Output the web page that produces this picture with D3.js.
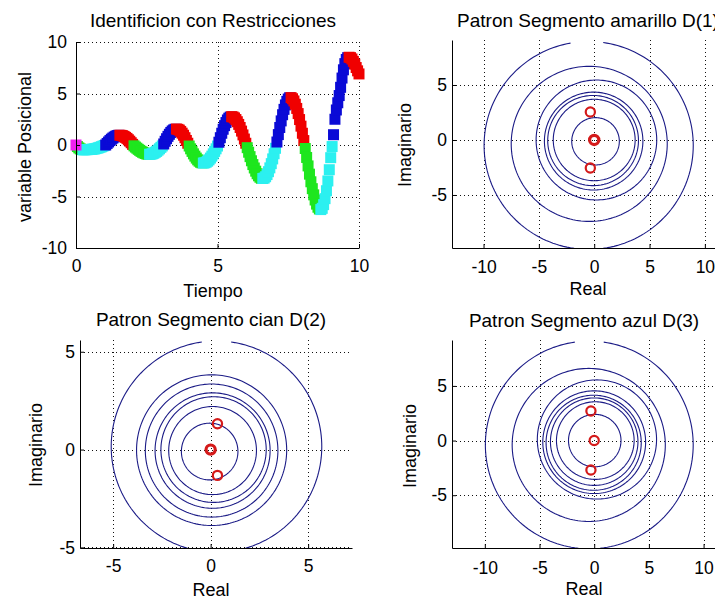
<!DOCTYPE html>
<html>
<head>
<meta charset="utf-8">
<script src="https://cdn.jsdelivr.net/npm/d3@7"></script>
<style>
	body { margin: 0; background: #fff; }
	svg { display: block; font-family: "Liberation Sans", Arial, Helvetica, sans-serif; }
</style>
</head>
<body>
<div id="chart"></div>
<script>
// respuesta identificada: tiempo (s) y variable posicional
var tiempo = [
	0.00, 0.05, 0.10, 0.15, 0.20, 0.25, 0.30, 0.35, 0.40, 0.45,
	0.50, 0.55, 0.60, 0.65, 0.70, 0.75, 0.80, 0.85, 0.90, 0.95,
	1.00, 1.05, 1.10, 1.15, 1.20, 1.25, 1.30, 1.35, 1.40, 1.45,
	1.50, 1.55, 1.60, 1.65, 1.70, 1.75, 1.80, 1.85, 1.90, 1.95,
	2.00, 2.05, 2.10, 2.15, 2.20, 2.25, 2.30, 2.35, 2.40, 2.45,
	2.50, 2.55, 2.60, 2.65, 2.70, 2.75, 2.80, 2.85, 2.90, 2.95,
	3.00, 3.05, 3.10, 3.15, 3.20, 3.25, 3.30, 3.35, 3.40, 3.45,
	3.50, 3.55, 3.60, 3.65, 3.70, 3.75, 3.80, 3.85, 3.90, 3.95,
	4.00, 4.05, 4.10, 4.15, 4.20, 4.25, 4.30, 4.35, 4.40, 4.45,
	4.50, 4.55, 4.60, 4.65, 4.70, 4.75, 4.80, 4.85, 4.90, 4.95,
	5.00, 5.05, 5.10, 5.15, 5.20, 5.25, 5.30, 5.35, 5.40, 5.45,
	5.50, 5.55, 5.60, 5.65, 5.70, 5.75, 5.80, 5.85, 5.90, 5.95,
	6.00, 6.05, 6.10, 6.15, 6.20, 6.25, 6.30, 6.35, 6.40, 6.45,
	6.50, 6.55, 6.60, 6.65, 6.70, 6.75, 6.80, 6.85, 6.90, 6.95,
	7.00, 7.05, 7.10, 7.15, 7.20, 7.25, 7.30, 7.35, 7.40, 7.45,
	7.50, 7.55, 7.60, 7.65, 7.70, 7.75, 7.80, 7.85, 7.90, 7.95,
	8.00, 8.05, 8.10, 8.15, 8.20, 8.25, 8.30, 8.35, 8.40, 8.45,
	8.50, 8.55, 8.60, 8.65, 8.70, 8.75, 8.80, 8.85, 8.90, 8.95,
	9.00, 9.05, 9.10, 9.15, 9.20, 9.25, 9.30, 9.35, 9.40, 9.45,
	9.50, 9.55, 9.60, 9.65, 9.70, 9.75, 9.80, 9.85, 9.90, 9.95,
	10.00
];
var posicion = [
	0.00, -0.15, -0.28, -0.38, -0.44, -0.47, -0.46, -0.46, -0.45, -0.44,
	-0.43, -0.42, -0.40, -0.38, -0.35, -0.31, -0.27, -0.22, -0.17, -0.11,
	-0.05, 0.00, 0.15, 0.29, 0.43, 0.56, 0.67, 0.77, 0.85, 0.91,
	0.94, 0.95, 0.93, 0.90, 0.83, 0.74, 0.64, 0.51, 0.37, 0.22,
	0.06, -0.08, -0.20, -0.31, -0.42, -0.52, -0.62, -0.70, -0.77, -0.82,
	-0.87, -0.89, -0.90, -0.89, -0.85, -0.80, -0.71, -0.62, -0.50, -0.37,
	-0.23, -0.09, 0.10, 0.36, 0.61, 0.84, 1.04, 1.22, 1.36, 1.46,
	1.53, 1.55, 1.52, 1.45, 1.32, 1.15, 0.95, 0.71, 0.44, 0.17,
	-0.10, -0.37, -0.62, -0.86, -1.08, -1.27, -1.44, -1.57, -1.67, -1.73,
	-1.75, -1.73, -1.67, -1.57, -1.44, -1.27, -1.08, -0.86, -0.62, -0.37,
	-0.10, 0.27, 0.71, 1.14, 1.53, 1.88, 2.18, 2.43, 2.60, 2.71,
	2.75, 2.72, 2.63, 2.47, 2.26, 2.00, 1.70, 1.35, 0.98, 0.58,
	0.17, -0.26, -0.70, -1.13, -1.53, -1.90, -2.23, -2.54, -2.79, -2.99,
	-3.13, -3.23, -3.25, -3.21, -3.08, -2.87, -2.59, -2.22, -1.81, -1.35,
	-0.85, -0.32, 0.29, 1.01, 1.70, 2.34, 2.94, 3.46, 3.89, 4.23,
	4.46, 4.59, 4.60, 4.49, 4.28, 3.96, 3.55, 3.05, 2.47, 1.83,
	1.14, 0.43, -0.34, -1.21, -2.03, -2.83, -3.57, -4.24, -4.84, -5.34,
	-5.74, -6.04, -6.21, -6.27, -6.15, -5.79, -5.21, -4.44, -3.49, -2.40,
	-1.23, -0.15, 1.00, 2.50, 3.40, 4.10, 4.80, 5.60, 6.50, 7.30,
	7.90, 8.30, 8.48, 8.52, 8.48, 8.35, 8.12, 7.85, 7.52, 7.20,
	6.90
];

// curvas de nivel de cada patron: [centro real, centro imag, radio, hueco desde, hueco hasta]
var nivelesD1 = [[0.12, -0.12, 2.15], [0.0, 0.0, 3.7], [-0.1, -0.05, 4.1], [-0.05, -0.1, 4.45],
	[0.2, 0.0, 5.45], [-0.45, -0.35, 7.05], [-0.5, -0.5, 9.45, -1.9, 0.7]];
var nivelesD2 = [[-0.05, -0.1, 1.45], [0.1, -0.05, 2.25], [0.15, 0.0, 2.7], [0.1, -0.05, 2.95],
	[0.05, -0.05, 3.4], [0.05, -0.03, 3.85], [0.3, 0.15, 5.4, -0.3, 1.0]];
var nivelesD3 = [[0.05, 0.0, 2.4], [0.1, 0.0, 3.55], [0.0, -0.1, 4.0], [-0.05, -0.2, 4.35],
	[0.0, -0.15, 4.7], [0.25, 0.1, 5.45], [-0.5, -0.4, 7.0], [-0.45, -0.4, 9.5, -1.55, 0.7]];

// raices: [real, imag, multiplicidad]
var raicesD1 = [[0, 0, 2], [-0.35, 2.55, 1], [-0.35, -2.55, 1]];
var raicesD2 = [[0, 0, 2], [0.35, 1.32, 1], [0.35, -1.32, 1]];
var raicesD3 = [[0, 0, 1], [-0.3, 2.7, 1], [-0.3, -2.7, 1]];

var ticksTiempo = [0, 5, 10];
var ticksPosicion = [-10, -5, 0, 5, 10];
var ticksReal = [-10, -5, 0, 5, 10];
var ticksImag = [-5, 0, 5];
var ticksD2 = [-5, 0, 5];

var colores = {
	inicio: "#f020f0",
	subePos: "#0a0ad6",
	bajaPos: "#f00000",
	bajaNeg: "#1ee61e",
	subeNeg: "#2cf0f0"
};

var width = 715;
var height = 601;

var svg = d3.select("#chart").append("svg")
	.attr("width", width)
	.attr("height", height);

// marco de cada subgrafica (pixeles)
var paneles = [
	{ left: 76, right: 359, top: 42, bottom: 248, xDom: [0, 10], yDom: [-10, 10],
		xTicks: ticksTiempo, yTicks: ticksPosicion, gap: 9,
		title: "Identificion con Restricciones", cx: 213, titleY: 27,
		xLabel: "Tiempo", xLabelY: 297, yLabel: "variable Posicional", yLabelX: 31, yLabelY: 147, tickY: 273 },
	{ left: 452, right: 727, top: 40, bottom: 248, xDom: [-12.85, 12.0], yDom: [-9.82, 9.09],
		xTicks: ticksReal, yTicks: ticksImag, gap: 5,
		title: "Patron Segmento amarillo D(1)", cx: 588, titleY: 27,
		xLabel: "Real", xLabelY: 295, yLabel: "Imaginario", yLabelX: 411, yLabelY: 145, tickY: 274 },
	{ left: 80, right: 352, top: 340, bottom: 548, xDom: [-6.7, 7.25], yDom: [-5.03, 5.6],
		xTicks: ticksD2, yTicks: ticksD2, gap: 5,
		title: "Patron Segmento cian D(2)", cx: 211, titleY: 326,
		xLabel: "Real", xLabelY: 596, yLabel: "Imaginario", yLabelX: 42, yLabelY: 445, tickY: 573 },
	{ left: 452, right: 720, top: 340, bottom: 548, xDom: [-13.0, 11.5], yDom: [-9.83, 9.2],
		xTicks: ticksReal, yTicks: ticksImag, gap: 5,
		title: "Patron Segmento azul D(3)", cx: 584, titleY: 327,
		xLabel: "Real", xLabelY: 595, yLabel: "Imaginario", yLabelX: 416, yLabelY: 446, tickY: 575 }
];

function crearPanel(p, i) {
	var x = d3.scaleLinear().domain(p.xDom).range([p.left, p.right]);
	var y = d3.scaleLinear().domain(p.yDom).range([p.bottom, p.top]);
	var px = function(v) { return Math.round(v) + 0.5; };

	var g = svg.append("g");

	g.append("clipPath")
	.attr("id", "clip" + i)
	.append("rect")
	.attr("x", p.left)
	.attr("y", p.top)
	.attr("width", p.right - p.left)
	.attr("height", p.bottom - p.top);

	// rejilla punteada
	var grid = g.append("g")
	.attr("stroke", "#111")
	.attr("stroke-width", 1)
	.attr("stroke-dasharray", "1,3")
	.attr("shape-rendering", "crispEdges");

	grid.selectAll("line.gx")
	.data(p.xTicks)
	.enter().append("line")
	.attr("x1", d => px(x(d)))
	.attr("x2", d => px(x(d)))
	.attr("y1", p.top)
	.attr("y2", p.bottom);

	grid.selectAll("line.gy")
	.data(p.yTicks)
	.enter().append("line")
	.attr("x1", p.left)
	.attr("x2", p.right)
	.attr("y1", d => px(y(d)))
	.attr("y2", d => px(y(d)));

	var datos = g.append("g");
	var ejes = g.append("g");

	var ejeX = ejes.append("g")
	.attr("transform", "translate(0," + p.bottom + ")")
	.call(d3.axisBottom(x).tickValues(p.xTicks).tickFormat(String)
		.tickSizeInner(-4).tickSizeOuter(0).tickPadding(p.tickY - p.bottom - 13));

	var ejeY = ejes.append("g")
	.attr("transform", "translate(" + p.left + ",0)")
	.call(d3.axisLeft(y).tickValues(p.yTicks).tickFormat(String)
		.tickSizeInner(-4).tickSizeOuter(0).tickPadding(p.gap));

	ejes.selectAll("text")
	.attr("font-family", null)
	.style("font-size", "17.5px")
	.attr("fill", "#000");
	ejes.selectAll(".domain, .tick line").attr("stroke", "#000");
	ejeX.attr("font-family", null).attr("font-size", null);
	ejeY.attr("font-family", null).attr("font-size", null);

	g.append("text")
	.attr("x", p.cx)
	.attr("y", p.titleY)
	.attr("text-anchor", "middle")
	.style("font-size", "19px")
	.text(p.title);

	g.append("text")
	.attr("x", p.cx)
	.attr("y", p.xLabelY)
	.attr("text-anchor", "middle")
	.style("font-size", "18px")
	.text(p.xLabel);

	g.append("text")
	.attr("transform", "translate(" + p.yLabelX + "," + p.yLabelY + ") rotate(-90)")
	.attr("text-anchor", "middle")
	.style("font-size", "18px")
	.text(p.yLabel);

	return { x: x, y: y, datos: datos, clip: "url(#clip" + i + ")" };
}

var pan = paneles.map(crearPanel);

// ---- respuesta con colores por cuadrante (signo y pendiente) ----
var muestras = posicion.map(function(v, i) {
	var estado;
	if (i === 0) {
		estado = "inicio";
	} else {
		var d = i < posicion.length - 1 ? posicion[i + 1] - v : v - posicion[i - 1];
		if (v >= 0) estado = d >= 0 ? "subePos" : "bajaPos";
		else estado = d < 0 ? "bajaNeg" : "subeNeg";
	}
	return { t: tiempo[i], v: v, estado: estado };
});

var lado = 11;
pan[0].datos.selectAll("rect")
.data(muestras.slice(1).concat(muestras.slice(0, 1)))
.enter().append("rect")
.attr("x", d => pan[0].x(d.t) - lado / 2)
.attr("y", d => pan[0].y(d.v) - lado / 2)
.attr("width", lado)
.attr("height", lado)
.attr("fill", d => colores[d.estado]);

// ---- patrones en el plano complejo ----
function dibujaPatron(p, niveles, raices) {
	var linea = d3.line()
	.defined(d => d.ok)
	.x(d => p.x(d.re))
	.y(d => p.y(d.im));

	var capa = p.datos.append("g").attr("clip-path", p.clip);

	capa.selectAll("path")
	.data(niveles)
	.enter().append("path")
	.attr("fill", "none")
	.attr("stroke", "#1b1b86")
	.attr("stroke-width", 1.1)
	.attr("d", function(n) {
		var pts = d3.range(0, 361, 2).map(function(a) {
			var re = n[0] + n[2] * Math.cos(a * Math.PI / 180);
			var im = n[1] + n[2] * Math.sin(a * Math.PI / 180);
			var hueco = n.length > 3 && im > n[1] && re > n[3] && re < n[4];
			return { re: re, im: im, ok: !hueco };
		});
		return linea(pts);
	});

	capa.selectAll("circle")
	.data(raices)
	.enter().append("circle")
	.attr("cx", d => p.x(d[0]))
	.attr("cy", d => p.y(d[1]))
	.attr("r", 4.6)
	.attr("fill", "none")
	.attr("stroke", "#d41a1a")
	.attr("stroke-width", d => d[2] > 1 ? 3.2 : 2.2);
}

dibujaPatron(pan[1], nivelesD1, raicesD1);
dibujaPatron(pan[2], nivelesD2, raicesD2);
dibujaPatron(pan[3], nivelesD3, raicesD3);
</script>
</body>
</html>
